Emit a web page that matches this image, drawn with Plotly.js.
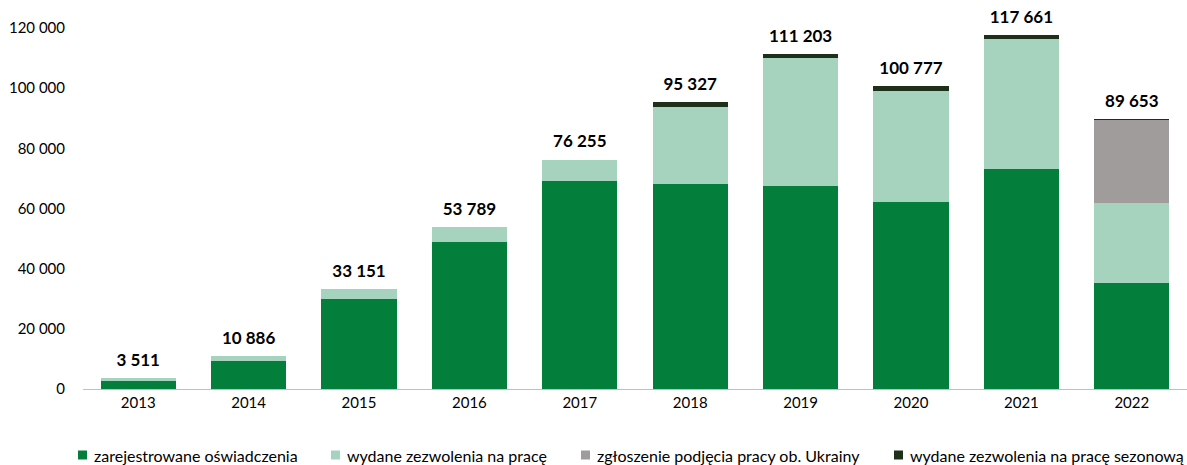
<!DOCTYPE html>
<html><head><meta charset="utf-8">
<script src="https://cdn.plot.ly/plotly-3.0.1.min.js"></script>
<style>body{margin:0;background:#fff}#c{width:1187px;height:465px}</style>
</head><body><div id="c"></div>
<script>
const years = ['2013','2014','2015','2016','2017','2018','2019','2020','2021','2022'];
const oswiadczenia = [2800, 9400, 29800, 48700, 69300, 68300, 67600, 62300, 73000, 35300];
const zezwolenia = [711, 1486, 3351, 5089, 6955, 25527, 42503, 36877, 43461, 26500];
const zgloszenia = [0, 0, 0, 0, 0, 0, 0, 0, 0, 27653];
const sezonowe = [0, 0, 0, 0, 0, 1500, 1100, 1600, 1200, 200];
const totals = [3511, 10886, 33151, 53789, 76255, 95327, 111203, 100777, 117661, 89653];
const totalLabels = ['3 511','10 886','33 151','53 789','76 255','95 327','111 203','100 777','117 661','89 653'];
const yTickVals = [0, 20000, 40000, 60000, 80000, 100000, 120000];
const yTickText = ['0','20 000','40 000','60 000','80 000','100 000','120 000'];
const seriesNames = ['zarejestrowane oświadczenia','wydane zezwolenia na pracę','zgłoszenie podjęcia pracy ob. Ukrainy','wydane zezwolenia na pracę sezonową'];
const colors = ['#047E3B','#A5D3BE','#A09C9B','#1E301A'];
const font = 'Lato, Carlito, sans-serif';

const W = 1187, H = 465, ML = 83, MR = 0, MT = 28, MB = 76;
const PW = W - ML - MR, PH = H - MT - MB;

const data = [oswiadczenia, zezwolenia, zgloszenia, sezonowe].map((v,i)=>({
  type:'bar', x:years, y:v, name:seriesNames[i], marker:{color:colors[i]}, hoverinfo:'skip', showlegend:false
}));
data.push({type:'scatter', mode:'markers+text', x:years, y:totals, text:totalLabels,
  marker:{size:11, color:'rgba(0,0,0,0)'},
  textposition:'top center', textfont:{family:font, size:17, color:'#000', weight:'bold'},
  cliponaxis:false, showlegend:false, hoverinfo:'skip'});

// custom legend (positions in pixels converted to paper coords)
const legendPx = [78, 331, 581, 894];
const legendY = 455;
const shapes = [], annotations = [];
seriesNames.forEach((n,i)=>{
  const xp = (legendPx[i]-ML)/PW;
  const yp = (H - MB - legendY)/PH;
  shapes.push({type:'rect', xref:'paper', yref:'paper', xsizemode:'pixel', ysizemode:'pixel',
    xanchor:xp, yanchor:yp, x0:0, x1:9, y0:-4.5, y1:4.5, fillcolor:colors[i], line:{width:0}});
  annotations.push({xref:'paper', yref:'paper', x:xp, y:yp, xshift:14, xanchor:'left', yanchor:'middle',
    showarrow:false, text:n, font:{family:font, size:16, color:'#000'}});
});

const layout = {
  width:W, height:H,
  margin:{l:ML, r:MR, t:MT, b:MB},
  barmode:'stack', bargap:0.32,
  paper_bgcolor:'#fff', plot_bgcolor:'#fff',
  font:{family:font, size:15, color:'#000'},
  xaxis:{type:'category', range:[-0.5, 9.5], showline:true, linecolor:'#BFBFBF', linewidth:1, ticks:'', showgrid:false, zeroline:false},
  yaxis:{range:[0,120000], tickvals:yTickVals, ticktext:yTickText,
    showgrid:false, zeroline:false, showline:false, ticks:'outside', ticklen:14, tickcolor:'rgba(0,0,0,0)'},
  showlegend:false,
  shapes:shapes, annotations:annotations
};
Plotly.newPlot('c', data, layout, {displayModeBar:false, staticPlot:true});
</script></body></html>
